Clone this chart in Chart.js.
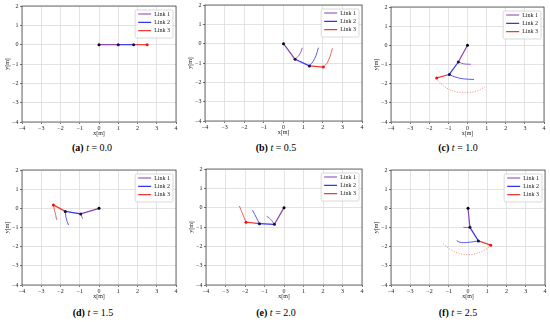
<!DOCTYPE html>
<html>
<head>
<meta charset="utf-8">
<script src="https://cdn.jsdelivr.net/npm/chart.js@4.4.1/dist/chart.umd.min.js"></script>
<style>
html, body { margin: 0; padding: 0; background: #fff; }
body { width: 550px; height: 322px; position: relative; overflow: hidden; font-family: "Liberation Serif", "DejaVu Serif", serif; }
canvas { position: absolute; }
.cap { position: absolute; font-size: 10px; line-height: 12px; transform: translateX(-50%); white-space: nowrap; color: #000; }
</style>
</head>
<body>
<script>
const linkNames = ['Link 1', 'Link 2', 'Link 3'];
const xTicks = [-4, -3, -2, -1, 0, 1, 2, 3, 4];
const yTicks = [-4, -3, -2, -1, 0, 1, 2];
const tags = ['(a)', '(b)', '(c)', '(d)', '(e)', '(f)'];
const times = ['0.0', '0.5', '1.0', '1.5', '2.0', '2.5'];

// base, joint 1, joint 2, end effector
const jointsA = [[0, 0], [1, 0], [1.8, 0], [2.5, 0]];
const jointsB = [[0, 0], [0.59, -0.81], [1.32, -1.15], [2.03, -1.21]];
const jointsC = [[0, 0], [-0.48, -0.87], [-0.95, -1.52], [-1.61, -1.7]];
const jointsD = [[0, 0], [-0.95, -0.29], [-1.75, -0.16], [-2.37, 0.18]];
const jointsE = [[0, 0], [-0.49, -0.86], [-1.26, -0.83], [-1.95, -0.75]];
const jointsF = [[0, 0], [0.1, -0.99], [0.54, -1.7], [1.18, -1.92]];

// traces left by joint 1, joint 2 and the end effector
const trailsA = [[], [], []];
const trailsB = [
  [[0.59, -0.81], [0.76, -0.64], [0.88, -0.44], [0.96, -0.21]],
  [[1.32, -1.15], [1.5, -0.93], [1.66, -0.6], [1.78, -0.21]],
  [[2.03, -1.21], [2.21, -1.02], [2.37, -0.66], [2.49, -0.24]]
];
const trailsC = [
  [[-0.48, -0.87], [-0.3, -0.94], [-0.08, -0.98], [0.17, -0.99]],
  [[-0.95, -1.52], [-0.66, -1.65], [-0.2, -1.75], [0.34, -1.78]],
  [[-1.58, -1.8], [-1.3, -2.08], [-0.95, -2.3], [-0.5, -2.44], [-0.05, -2.47], [0.45, -2.39], [0.92, -2.17]]
];
const trailsD = [
  [[-0.95, -0.29], [-0.9, -0.42], [-0.85, -0.54]],
  [[-1.75, -0.16], [-1.72, -0.45], [-1.66, -0.68], [-1.58, -0.87]],
  [[-2.37, 0.18], [-2.31, -0.1], [-2.25, -0.36], [-2.2, -0.6]]
];
const trailsE = [
  [[-0.49, -0.86], [-0.62, -0.68], [-0.76, -0.53], [-0.89, -0.44]],
  [[-1.26, -0.83], [-1.38, -0.59], [-1.5, -0.35], [-1.62, -0.13]],
  [[-1.95, -0.75], [-2.08, -0.43], [-2.19, -0.16], [-2.29, 0.09]]
];
const trailsF = [
  [[0.1, -0.99], [-0.06, -1.0], [-0.24, -0.99]],
  [[0.54, -1.7], [0.3, -1.74], [0.05, -1.77], [-0.22, -1.79], [-0.45, -1.76], [-0.59, -1.68]],
  [[1.18, -1.92], [0.92, -2.15], [0.5, -2.34], [0.02, -2.42], [-0.5, -2.35], [-0.95, -2.12], [-1.31, -1.83]]
];

const allJoints = [jointsA, jointsB, jointsC, jointsD, jointsE, jointsF];
const allTrails = [trailsA, trailsB, trailsC, trailsD, trailsE, trailsF];

// layout: plot area [left, right, top, bottom] and caption centre
const areas = [[22, 176, 6, 122], [205, 362, 5, 121], [391, 544, 7, 122],
               [22, 176, 170, 285], [206, 362, 169, 285], [391, 545, 170, 285]];
const capPos = [[92, 147.5], [276, 147.5], [458, 147.5], [93, 313], [276, 313], [458, 313]];
const dottedEnd = [false, false, true, false, false, true];

const linkColors = ['#8a3fb0', '#3535f0', '#f03a34'];
const trailColors = ['#9650b8', '#4848f0', '#f05550'];
const jointColors = ['#000000', '#2a0a3a', '#101050', '#ee1111'];
const serif = 'Liberation Serif';

const fmt = v => (v < 0 ? '\u2212' + Math.abs(v) : String(v));
const pt = p => ({ x: p[0], y: p[1] });

const frame = {
  id: 'frame',
  beforeDatasetsDraw(chart) {
    const { ctx, chartArea: a } = chart;
    ctx.save();
    ctx.strokeStyle = '#333';
    ctx.lineWidth = 0.7;
    ctx.strokeRect(a.left, a.top, a.right - a.left, a.bottom - a.top);
    ctx.restore();
  }
};

// put the legend in the upper right corner, inside a framed box
const legendBox = {
  id: 'legendBox',
  afterLayout(chart) {
    const lg = chart.legend;
    const a = chart.chartArea;
    const pad = lg.options.labels.padding;
    const col = lg.columnSizes[0];
    const fw = col.width + 6, fh = 28;
    const fx = a.right - 3 - fw, fy = a.top + 4;
    lg.left = fx + 3 - pad;
    lg.top = fy + 1 - pad;
    lg.right = a.right;
    lg.bottom = a.bottom;
    lg.width = lg.right - lg.left;
    lg.height = lg.bottom - lg.top;
    chart.$frame = { fx, fy, fw, fh };
    if (!lg.$wrapped) {
      const orig = lg.draw;
      lg.draw = function () {
        const f = chart.$frame;
        const c = chart.ctx;
        c.save();
        c.fillStyle = 'rgba(255,255,255,0.85)';
        c.strokeStyle = '#c8c8c8';
        c.lineWidth = 0.7;
        c.beginPath();
        c.roundRect(f.fx, f.fy, f.fw, f.fh, 1.5);
        c.fill();
        c.stroke();
        c.restore();
        orig.apply(this, arguments);
      };
      lg.$wrapped = true;
    }
  }
};

function makePanel(i) {
  const [L, R, T, B] = areas[i];
  const w = R - L + 26, h = B - T + 22;
  const cv = document.createElement('canvas');
  cv.width = w; cv.height = h;
  cv.style.left = (L - 22) + 'px';
  cv.style.top = (T - 6) + 'px';
  cv.style.width = w + 'px';
  cv.style.height = h + 'px';
  document.body.appendChild(cv);

  const joints = allJoints[i];
  const trails = allTrails[i];
  const datasets = [];
  for (let k = 0; k < 3; k++) {
    datasets.push({
      label: linkNames[k],
      data: [pt(joints[k]), pt(joints[k + 1])],
      showLine: true,
      borderColor: linkColors[k],
      backgroundColor: linkColors[k],
      borderWidth: 1.2,
      pointRadius: 0,
      order: 1
    });
  }
  for (let k = 0; k < 3; k++) {
    const dotted = k === 2 && dottedEnd[i];
    datasets.push({
      label: 'trace ' + (k + 1),
      data: trails[k].map(pt),
      showLine: true,
      borderColor: dotted ? 'rgba(240,80,80,0.75)' : trailColors[k],
      borderWidth: 0.9,
      borderDash: dotted ? [1, 1.6] : [],
      tension: 0.35,
      pointRadius: 0,
      order: 2
    });
  }
  datasets.push({
    label: 'joints',
    data: joints.map(pt),
    showLine: false,
    pointRadius: 1.5,
    pointBorderWidth: 0,
    pointBackgroundColor: jointColors,
    order: 0
  });

  const tickFont = { family: serif, size: 6 };
  new Chart(cv, {
    type: 'scatter',
    data: { datasets },
    options: {
      responsive: false,
      animation: false,
      layout: { padding: { top: 6, right: 4, left: 0, bottom: 0 } },
      plugins: {
        legend: {
          position: 'chartArea',
          align: 'start',
          labels: {
            filter: it => it.datasetIndex < 3,
            usePointStyle: true,
            pointStyle: 'line',
            pointStyleWidth: 13,
            boxHeight: 6,
            padding: 2.3,
            color: '#222',
            font: { family: serif, size: 6 }
          }
        },
        tooltip: { enabled: false }
      },
      scales: {
        x: {
          type: 'linear', min: -4, max: 4,
          afterBuildTicks: s => { s.ticks = xTicks.map(v => ({ value: v })); },
          afterFit: s => { s.height = 16; },
          ticks: { font: tickFont, color: '#222', padding: 1, maxRotation: 0, autoSkip: false, callback: fmt },
          grid: { color: '#dcdcdc', lineWidth: 0.8, tickLength: 2, tickColor: '#333', tickWidth: 0.7 },
          border: { display: false },
          title: { display: true, text: 'x[m]', font: tickFont, color: '#222', padding: { top: 0, bottom: 1.4 } }
        },
        y: {
          type: 'linear', min: -4, max: 2,
          afterBuildTicks: s => { s.ticks = yTicks.map(v => ({ value: v })); },
          afterFit: s => { s.width = 22; },
          ticks: { font: tickFont, color: '#222', padding: 1.5, autoSkip: false, callback: fmt },
          grid: { color: '#dcdcdc', lineWidth: 0.8, tickLength: 2, tickColor: '#333', tickWidth: 0.7 },
          border: { display: false },
          title: { display: true, text: 'y[m]', font: tickFont, color: '#222', padding: { top: 3.4, bottom: 0 } }
        }
      }
    },
    plugins: [frame, legendBox]
  });

  const cap = document.createElement('div');
  cap.className = 'cap';
  cap.style.left = capPos[i][0] + 'px';
  cap.style.top = (capPos[i][1] - 6) + 'px';
  cap.innerHTML = '<b>' + tags[i] + '</b> <i>t</i> = ' + times[i];
  document.body.appendChild(cap);
}

for (let i = 0; i < 6; i++) makePanel(i);
</script>
</body>
</html>
